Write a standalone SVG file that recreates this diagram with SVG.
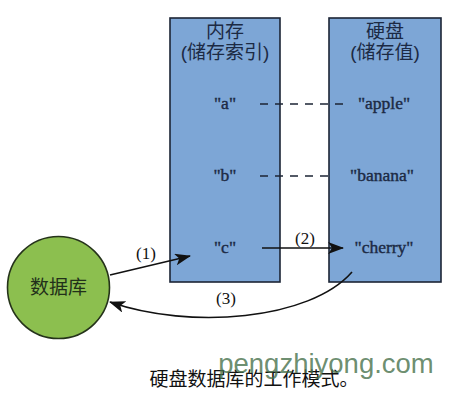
<svg xmlns="http://www.w3.org/2000/svg" width="457" height="404" viewBox="0 0 457 404">
<style>
.box{fill:#7da6d6;stroke:#1c2535;stroke-width:1.6}
.hdr{font-family:"Liberation Sans","Noto Sans CJK SC",sans-serif;font-size:19px;fill:#1c2a44;text-anchor:middle}
.item{font-family:"Liberation Serif",serif;font-size:17.5px;fill:#1c2a44;stroke:#1c2a44;stroke-width:0.4;text-anchor:middle}
.lbl{font-family:"Liberation Serif",serif;font-size:17px;fill:#111;text-anchor:middle}
.dash{stroke:#1c2535;stroke-width:1.6;stroke-dasharray:8 7;fill:none}
.arr{stroke:#111;stroke-width:1.6;fill:none;marker-end:url(#ah)}
</style>
<defs>
<marker id="ah" markerWidth="16" markerHeight="12" refX="15" refY="6" orient="auto" markerUnits="userSpaceOnUse">
<path d="M0,0 L16,6 L0,12 L4,6 Z" fill="#111"/>
</marker>
</defs>
<rect width="457" height="404" fill="#ffffff"/>
<g id="memory">
<rect class="box" x="170" y="18" width="110" height="264"/>
<text class="hdr" x="225" y="38">内存</text>
<text class="hdr" x="225" y="59">(储存索引)</text>
<text class="item" x="225" y="109">"a"</text>
<text class="item" x="225" y="181">"b"</text>
<text class="item" x="225" y="253">"c"</text>
</g>
<g id="disk">
<rect class="box" x="329" y="18" width="112" height="264"/>
<text class="hdr" x="385" y="38">硬盘</text>
<text class="hdr" x="385" y="59">(储存值)</text>
<text class="item" x="384" y="109">"apple"</text>
<text class="item" x="382" y="181">"banana"</text>
<text class="item" x="384" y="253">"cherry"</text>
</g>
<g id="database">
<circle cx="58.5" cy="287.5" r="51" fill="#8cbf4f" stroke="#25331a" stroke-width="1.6"/>
<text x="58.5" y="294" text-anchor="middle" font-family="Liberation Sans,Noto Sans CJK SC,sans-serif" font-size="19" fill="#22301a">数据库</text>
</g>
<g id="connectors">
<line class="dash" x1="260" y1="104" x2="346" y2="104"/>
<line class="dash" x1="260" y1="176" x2="334" y2="176"/>
<line class="arr" x1="110" y1="275" x2="190" y2="256"/>
<line class="arr" x1="262" y1="248" x2="343" y2="248"/>
<path class="arr" d="M352,272 C310,320 190,330 110,302"/>
<text class="lbl" x="146" y="259">(1)</text>
<text class="lbl" x="305" y="244">(2)</text>
<text class="lbl" x="226" y="304">(3)</text>
</g>
<text x="254" y="386" text-anchor="middle" font-family="Liberation Sans,Noto Sans CJK SC,sans-serif" font-size="19" fill="#111">硬盘数据库的工作模式。</text>
<text x="326" y="373" text-anchor="middle" font-family="Liberation Sans,Noto Sans,sans-serif" font-size="27.5" fill="#46704a" fill-opacity="0.8">pengzhiyong.com</text>
</svg>
